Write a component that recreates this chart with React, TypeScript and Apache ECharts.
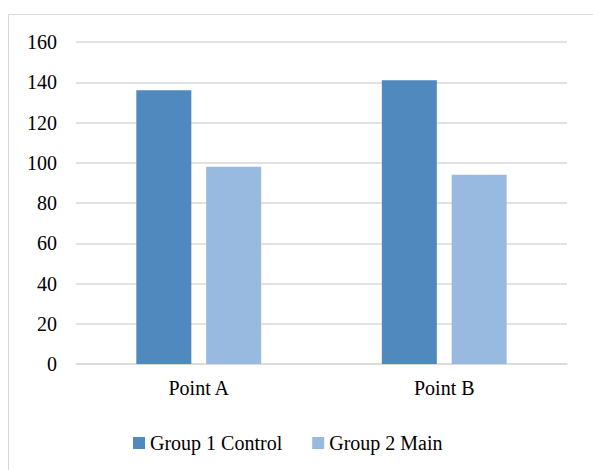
import React, { useEffect, useRef } from "react";
import * as echarts from "echarts";

const categories = ["Point A", "Point B"];
const group1Control = [136, 141];
const group2Main = [98, 94];
const seriesNames = ["Group 1 Control", "Group 2 Main"];
const yTicks = { min: 0, max: 160, interval: 20 };

const FONT = "Liberation Serif";

export default function App() {
  const ref = useRef<HTMLDivElement>(null);
  useEffect(() => {
    document.body.style.margin = "0";
    document.body.style.overflow = "hidden";
    if (!ref.current) return;
    const chart = echarts.init(ref.current, undefined, { renderer: "svg" });
    chart.setOption({
      animation: false,
      textStyle: { fontFamily: FONT },
      graphic: [
        {
          type: "line",
          shape: { x1: 8.5, y1: 14.5, x2: 593, y2: 14.5 },
          style: { stroke: "#d9d9d9", lineWidth: 1 },
          silent: true,
        },
        {
          type: "line",
          shape: { x1: 8.5, y1: 14.5, x2: 8.5, y2: 470 },
          style: { stroke: "#d9d9d9", lineWidth: 1 },
          silent: true,
        },
      ],
      grid: { left: 76, right: 26, top: 42, bottom: 106, containLabel: false },
      legend: {
        data: seriesNames,
        left: 128,
        top: 428,
        icon: "rect",
        itemWidth: 12,
        itemHeight: 12,
        itemGap: 30,
        textStyle: { fontFamily: FONT, fontSize: 20, color: "#000" },
      },
      xAxis: {
        type: "category",
        data: categories,
        axisTick: { show: false },
        axisLine: { lineStyle: { color: "#d9d9d9", width: 1.5 } },
        axisLabel: { fontFamily: FONT, fontSize: 20, color: "#000", margin: 14 },
      },
      yAxis: {
        type: "value",
        min: yTicks.min,
        max: yTicks.max,
        interval: yTicks.interval,
        axisLine: { show: false },
        axisTick: { show: false },
        splitLine: { lineStyle: { color: "#d9d9d9", width: 1.5 } },
        axisLabel: { fontFamily: FONT, fontSize: 20, color: "#000", margin: 19 },
      },
      series: [
        {
          name: seriesNames[0],
          type: "bar",
          data: group1Control,
          barWidth: 55,
          barGap: "27%",
          itemStyle: { color: "#4f89bd" },
        },
        {
          name: seriesNames[1],
          type: "bar",
          data: group2Main,
          barWidth: 55,
          barGap: "27%",
          itemStyle: { color: "#98b9e0" },
        },
      ],
    });
    return () => chart.dispose();
  }, []);
  return <div ref={ref} style={{ width: 593, height: 470 }} />;
}
